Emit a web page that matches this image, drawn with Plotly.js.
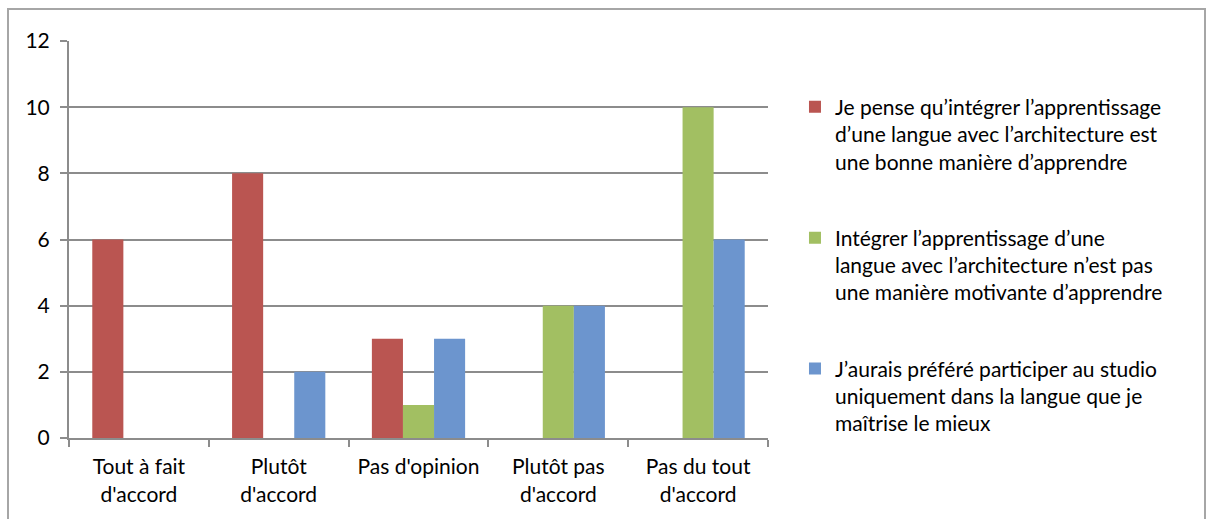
<!DOCTYPE html>
<html>
<head>
<meta charset="utf-8">
<script src="https://cdn.plot.ly/plotly-3.0.1.min.js"></script>
<style>
  html, body { margin: 0; padding: 0; background: #fff; }
  #wrap { position: relative; width: 1212px; height: 519px; overflow: hidden; }
  #chart { width: 1212px; height: 519px; }
  #frame { position: absolute; left: 7px; top: 8px; width: 1199px; height: 600px;
           border: 2px solid #a6a6a6; box-sizing: border-box; pointer-events: none; }
</style>
</head>
<body>
<div id="wrap">
  <div id="chart"></div>
  <div id="frame"></div>
</div>
<script>
const categories = ["Tout à fait<br>d'accord", "Plutôt<br>d'accord", "Pas d'opinion", "Plutôt pas<br>d'accord", "Pas du tout<br>d'accord"];
const seriesNames = [
  "Je pense qu’intégrer l’apprentissage<br>d’une langue avec l’architecture est<br>une bonne manière d’apprendre",
  "Intégrer l’apprentissage d’une<br>langue avec l’architecture n’est pas<br>une manière motivante d’apprendre",
  "J’aurais préféré participer au studio<br>uniquement dans la langue que je<br>maîtrise le mieux"
];
const valuesRed = [6, 8, 3, 0, 0];
const valuesGreen = [0, 0, 1, 4, 10];
const valuesBlue = [0, 2, 3, 4, 6];
const yTicks = [0, 2, 4, 6, 8, 10, 12];

const colors = ["#BA5551", "#A2BF62", "#6C95CE"];
const allValues = [valuesRed, valuesGreen, valuesBlue];

const traces = allValues.map((v, i) => ({
  type: "bar",
  x: categories,
  y: v,
  name: seriesNames[i],
  legendgroup: "g" + i,
  marker: { color: colors[i], line: { width: 0 } },
  hoverinfo: "skip"
}));

const fontFam = "Lato, 'Open Sans', sans-serif";
const axisGray = "#8c8c8c";

const layout = {
  width: 1212,
  height: 519,
  margin: { l: 69, r: 444, t: 41, b: 81, pad: 0 },
  paper_bgcolor: "rgba(0,0,0,0)",
  plot_bgcolor: "rgba(0,0,0,0)",
  barmode: "group",
  bargap: 0.333,
  bargroupgap: 0,
  font: { family: fontFam, size: 21, color: "#000" },
  xaxis: {
    type: "category",
    tickson: "boundaries",
    ticks: "outside",
    ticklen: 7,
    tickwidth: 2,
    tickcolor: axisGray,
    showline: true,
    linecolor: axisGray,
    linewidth: 2,
    showgrid: false,
    ticklabelstandoff: 9,
    tickfont: { family: fontFam, size: 21, color: "#000" },
    fixedrange: true
  },
  yaxis: {
    range: [0, 12],
    tickvals: yTicks,
    ticktext: yTicks.map(String),
    ticks: "outside",
    ticklen: 7,
    tickwidth: 2,
    tickcolor: axisGray,
    showline: true,
    linecolor: axisGray,
    linewidth: 2,
    showgrid: true,
    gridcolor: axisGray,
    gridwidth: 2,
    zeroline: false,
    ticklabelstandoff: 6,
    tickfont: { family: fontFam, size: 21, color: "#000" },
    fixedrange: true
  },
  showlegend: true,
  legend: {
    x: 1.0386,
    xanchor: "left",
    y: 0.885,
    yanchor: "top",
    valign: "top",
    tracegroupgap: 46,
    traceorder: "grouped",
    bgcolor: "rgba(0,0,0,0)",
    font: { family: fontFam, size: 21, color: "#000" }
  }
};

Plotly.newPlot("chart", traces, layout, { staticPlot: true, displayModeBar: false });
</script>
</body>
</html>
